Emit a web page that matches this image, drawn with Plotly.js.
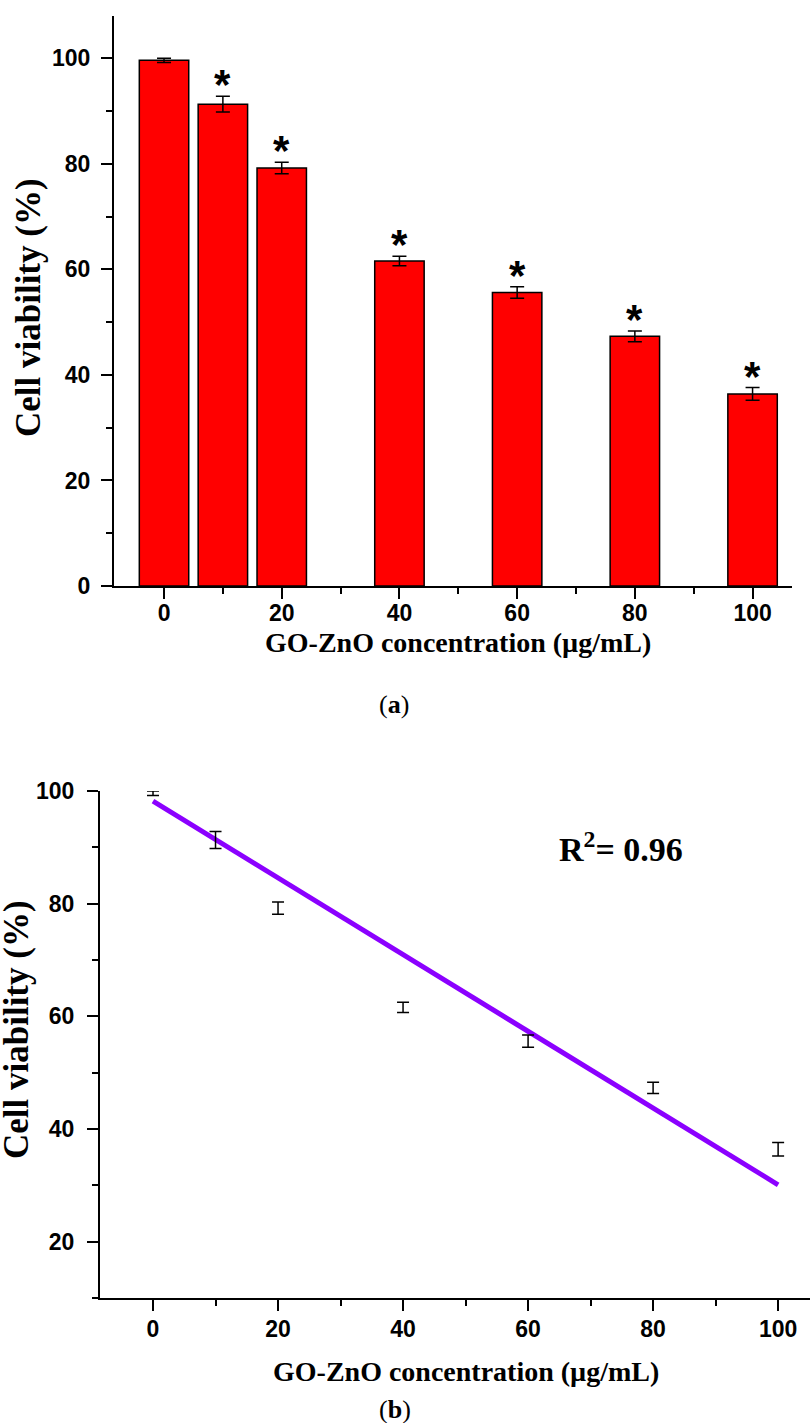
<!DOCTYPE html>
<html><head><meta charset="utf-8">
<script src="https://cdn.plot.ly/plotly-3.0.1.min.js"></script>
<style>html,body{margin:0;padding:0;background:#fff;} #chart{width:810px;height:1423px;}</style>
</head><body><div id="chart"></div>
<script>
// ---- data ----
const concentrations = [0, 10, 20, 40, 60, 80, 100];
const viability = [99.6, 91.3, 79.2, 61.6, 55.6, 47.3, 36.4];
const viabilityErr = [0.4, 1.5, 1.1, 0.9, 1.1, 1.0, 1.2];
const significant = [false, true, true, true, true, true, true];
const fitX = [0, 100];
const fitY = [98.2, 30.1];
const rSquaredLabel = 'R<sup>2</sup>= 0.96';
const xTitle = 'GO-ZnO concentration (µg/mL)';
const yTitle = 'Cell viability (%)';
const captionA = '(<b>a</b>)';
const captionB = '(<b>b</b>)';

// ---- layout helpers ----
const W = 810, H = 1423;
const px = x => x / W;
const py = y => 1 - y / H;

const tickFont = {family: 'Liberation Sans, Arial, sans-serif', size: 23, color: '#000', weight: 'bold'};
const serifBoldX = {family: 'Liberation Serif, Times New Roman, serif', size: 28, color: '#000', weight: 'bold'};
const serifBoldY = {family: 'Liberation Serif, Times New Roman, serif', size: 35, color: '#000', weight: 'bold'};
const serifCap = {family: 'Liberation Serif, Times New Roman, serif', size: 26, color: '#000'};

function axisBase(extra) {
  return Object.assign({
    showline: true, linecolor: '#000', linewidth: 2,
    showgrid: false, zeroline: false,
    ticks: 'outside', ticklen: 11, tickwidth: 2, tickcolor: '#000',
    tickfont: tickFont, automargin: false, fixedrange: true,
    tickmode: 'linear', tick0: 0, dtick: 20,
    minor: {ticks: 'outside', ticklen: 6, tickwidth: 2, tickcolor: '#000', dtick: 10, tick0: 0, showgrid: false}
  }, extra);
}

const traces = [
  {
    type: 'bar', x: concentrations, y: viability, width: 8.4,
    marker: {color: '#FF0000', line: {color: '#000', width: 1.5}},
    error_y: {type: 'data', array: viabilityErr, visible: true, color: '#000', thickness: 1.5, width: 7},
    xaxis: 'x', yaxis: 'y', hoverinfo: 'skip', showlegend: false
  },
  {
    type: 'scatter', mode: 'lines', x: fitX, y: fitY,
    line: {color: '#8B00FF', width: 5},
    xaxis: 'x2', yaxis: 'y2', cliponaxis: false, hoverinfo: 'skip', showlegend: false
  },
  {
    type: 'scatter', mode: 'markers', x: concentrations, y: viability,
    marker: {size: 1, color: 'rgba(0,0,0,0)'},
    error_y: {type: 'data', array: viabilityErr, visible: true, color: '#000', thickness: 1.5, width: 6},
    xaxis: 'x2', yaxis: 'y2', cliponaxis: false, hoverinfo: 'skip', showlegend: false
  }
];

const annotations = [];
concentrations.forEach((c, i) => {
  if (significant[i]) {
    annotations.push({
      xref: 'x', yref: 'y', x: c, y: viability[i] + viabilityErr[i],
      text: '*', showarrow: false, yanchor: 'bottom', yshift: -14,
      font: {family: 'Liberation Sans, Arial, sans-serif', size: 42, color: '#000', weight: 'bold'}
    });
  }
});
annotations.push(
  {xref: 'paper', yref: 'paper', x: px(458), y: py(642), text: xTitle, showarrow: false, font: serifBoldX, xanchor: 'center', yanchor: 'middle'},
  {xref: 'paper', yref: 'paper', x: px(394), y: py(705), text: captionA, showarrow: false, font: serifCap, xanchor: 'center', yanchor: 'middle'},
  {xref: 'paper', yref: 'paper', x: px(28), y: py(308), text: yTitle, textangle: -90, showarrow: false, font: serifBoldY, xanchor: 'center', yanchor: 'middle'},
  {xref: 'paper', yref: 'paper', x: px(16), y: py(1030), text: yTitle, textangle: -90, showarrow: false, font: serifBoldY, xanchor: 'center', yanchor: 'middle'},
  {xref: 'paper', yref: 'paper', x: px(466), y: py(1371), text: xTitle, showarrow: false, font: serifBoldX, xanchor: 'center', yanchor: 'middle'},
  {xref: 'paper', yref: 'paper', x: px(395), y: py(1409), text: captionB, showarrow: false, font: serifCap, xanchor: 'center', yanchor: 'middle'},
  {xref: 'paper', yref: 'paper', x: px(621), y: py(847), text: rSquaredLabel, showarrow: false,
   font: {family: 'Liberation Serif, Times New Roman, serif', size: 34, color: '#000', weight: 'bold'}, xanchor: 'center', yanchor: 'middle'}
);

const layout = {
  width: W, height: H,
  margin: {l: 0, r: 0, t: 0, b: 0, pad: 0},
  paper_bgcolor: '#fff', plot_bgcolor: '#fff',
  showlegend: false,
  xaxis: axisBase({domain: [px(114), px(792)], range: [-8.5, 106.7], anchor: 'y', ticklabelstandoff: -6}),
  yaxis: axisBase({domain: [py(586), py(16)], range: [0, 108], anchor: 'x', ticklabelstandoff: 6}),
  xaxis2: axisBase({domain: [px(100), px(810)], range: [-8.48, 105.1], anchor: 'y2', ticklabelstandoff: -2}),
  yaxis2: axisBase({domain: [py(1298), py(791)], range: [10, 100], anchor: 'x2', ticklabelstandoff: 8}),
  annotations: annotations
};

Plotly.newPlot('chart', traces, layout, {staticPlot: true, displayModeBar: false});
</script>
</body></html>
